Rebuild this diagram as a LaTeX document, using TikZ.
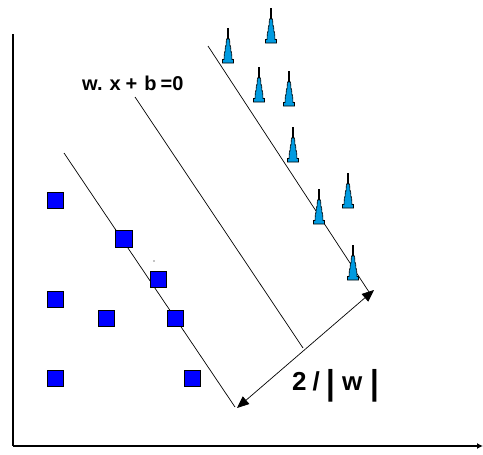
\documentclass[tikz,border=0pt]{standalone}
\usepackage{fontspec}
\setmainfont{Liberation Sans}
\usetikzlibrary{arrows.meta}
\definecolor{sqblue}{RGB}{0,0,255}
\definecolor{coneblue}{RGB}{0,155,225}
\begin{document}
\begin{tikzpicture}[x=1pt,y=-1pt,
  sq/.style={draw=black,fill=sqblue,minimum size=16pt,inner sep=0pt,line width=0.8pt},
  bigsq/.style={sq,minimum size=17.5pt},
  hyp/.style={line width=0.7pt},
  axisline/.style={line width=1.8pt},
  dimarrow/.style={line width=0.7pt,{Triangle[length=12pt,width=10pt]}-{Triangle[length=12pt,width=10pt]}},
  cone/.pic={
    \draw[line width=1.8pt] (0,-22) -- (0,-35);
    \filldraw[fill=coneblue,draw=black,line width=0.6pt]
      (-5.5,0) -- (5.5,0) -- (5.5,-3.5) -- (4,-3.5) -- (3.6,-11) -- (3,-11) -- (2.6,-17)
      -- (2,-17) -- (1.6,-24) -- (-1.6,-24) -- (-2,-17) -- (-2.6,-17) -- (-3,-11)
      -- (-3.6,-11) -- (-4,-3.5) -- (-5.5,-3.5) -- cycle;
  }
]
\useasboundingbox (0,0) rectangle (483,455);

% axes
\coordinate (O) at (13,446);
\coordinate (ytop) at (13,34);
\coordinate (xend) at (483,446);
\draw[axisline] (ytop) -- (O);
\draw[axisline,-{Latex[length=6pt,width=6pt]}] (O) -- (xend);

% hyperplanes
\coordinate (l1a) at (64,153);  \coordinate (l1b) at (235,407);
\coordinate (l2a) at (135,97);  \coordinate (l2b) at (303,348);
\coordinate (l3a) at (208,46);  \coordinate (l3b) at (369,292);
\draw[hyp] (l1a) -- (l1b);
\draw[hyp] (l2a) -- (l2b);
\draw[hyp] (l3a) -- (l3b);

% margin arrow
\coordinate (m1) at (237,408);
\coordinate (m2) at (374,290);
\draw[dimarrow] (m1) -- (m2);

% squares
\node[sq] (s1) at (55.7,200) {};
\node[bigsq] (s2) at (124,239) {};
\node[sq] (s3) at (158,279) {};
\node[sq] (s4) at (55.7,299) {};
\node[sq] (s5) at (106,318) {};
\node[sq] (s6) at (175,318) {};
\node[sq] (s7) at (55.7,378) {};
\node[sq] (s8) at (192,378) {};
\fill (154,261) circle (0.7);

% cones
\pic (c1) at (228,63) {cone};
\pic (c2) at (271,43) {cone};
\pic (c3) at (259,102) {cone};
\pic (c4) at (289,106) {cone};
\pic (c5) at (293,162) {cone};
\pic (c6) at (319,224) {cone};
\pic (c7) at (348,208) {cone};
\pic (c8) at (353,280) {cone};

% labels
\node[anchor=base west,inner sep=0pt] (eq) at (82,90)
  {\fontsize{20}{20}\selectfont\bfseries w.\hspace{7pt}x\hspace{5pt}+\hspace{7pt}b\hspace{4pt}=0};
\node[anchor=base west,inner sep=0pt] (marg) at (292,390)
  {\fontsize{26}{26}\selectfont\bfseries 2\hspace{6pt}/\hspace{6.6pt}\raisebox{-4.7pt}{\scalebox{1.2}[1.33]{|}}\hspace{7pt}w\hspace{8.5pt}\raisebox{-4.7pt}{\scalebox{1.2}[1.33]{|}}};
\end{tikzpicture}
\end{document}
